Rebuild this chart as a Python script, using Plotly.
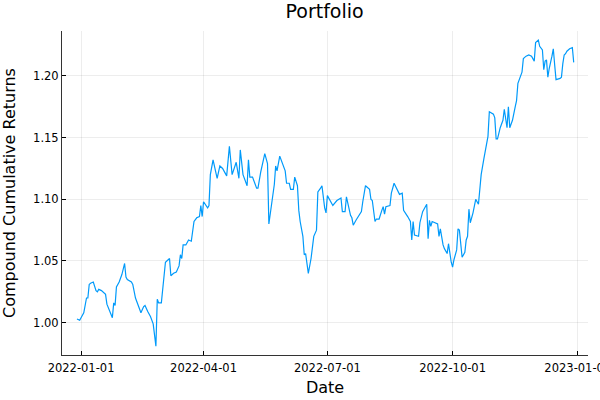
import pandas as pd
import plotly.graph_objects as go

# days counted from 2022-01-01
day = [-3, -1, 0, 2, 4, 5, 6, 7, 9, 11, 12, 13, 15, 17, 18, 19, 21, 23, 24, 25,
       26, 28, 30, 32, 33, 34, 37, 38, 40, 43, 44, 46, 47, 49, 51, 53, 55, 56, 57, 59,
       60, 62, 65, 66, 68, 70, 72, 73, 74, 75, 77, 79, 81, 83, 85, 87, 88, 89, 90, 93,
       94, 95, 97, 100, 102, 104, 107, 109, 111, 114, 116, 117, 119, 122, 123, 124, 126, 129, 130, 132,
       135, 137, 138, 140, 142, 143, 144, 146, 148, 150, 151, 153, 154, 156, 157, 159, 160, 161, 163, 164,
       165, 167, 169, 171, 173, 174, 176, 177, 179, 180, 181, 183, 185, 188, 191, 192, 194, 195, 198, 199,
       200, 202, 205, 206, 207, 209, 212, 213, 214, 216, 217, 219, 221, 222, 223, 224, 227, 228, 230, 232,
       234, 236, 237, 240, 242, 243, 244, 245, 248, 249, 251, 254, 255, 256, 257, 258, 262, 263, 264, 266,
       267, 269, 270, 272, 273, 274, 276, 277, 278, 280, 282, 283, 284, 285, 286, 288, 290, 292, 294, 296,
       298, 299, 300, 303, 304, 305, 306, 308, 310, 311, 313, 314, 315, 317, 319, 320, 321, 323, 324, 325,
       327, 329, 331, 333, 334, 336, 337, 339, 340, 341, 342, 343, 344, 346, 347, 348, 349, 352, 353, 354,
       355, 356, 357, 359, 361, 362]
value = [1.003, 1.002, 1.004, 1.008, 1.020, 1.020, 1.031, 1.032, 1.033, 1.026, 1.025, 1.027, 1.026, 1.024, 1.023, 1.015, 1.010, 1.004, 1.016, 1.014,
         1.029, 1.033, 1.039, 1.048, 1.037, 1.035, 1.033, 1.031, 1.020, 1.010, 1.008, 1.013, 1.014, 1.009, 1.005, 0.999, 0.981, 1.019, 1.016, 1.016,
         1.029, 1.049, 1.052, 1.038, 1.040, 1.041, 1.046, 1.055, 1.052, 1.063, 1.063, 1.067, 1.066, 1.082, 1.085, 1.086, 1.095, 1.086, 1.098, 1.093,
         1.095, 1.120, 1.132, 1.117, 1.127, 1.125, 1.119, 1.143, 1.120, 1.130, 1.117, 1.140, 1.120, 1.111, 1.132, 1.118, 1.118, 1.109, 1.109, 1.122,
         1.137, 1.129, 1.080, 1.098, 1.112, 1.127, 1.123, 1.135, 1.129, 1.123, 1.113, 1.113, 1.108, 1.108, 1.118, 1.111, 1.091, 1.082, 1.070, 1.055,
         1.056, 1.040, 1.052, 1.070, 1.075, 1.106, 1.109, 1.111, 1.093, 1.089, 1.103, 1.099, 1.095, 1.099, 1.101, 1.090, 1.090, 1.102, 1.087, 1.085,
         1.079, 1.083, 1.089, 1.090, 1.098, 1.111, 1.108, 1.100, 1.099, 1.082, 1.084, 1.084, 1.091, 1.094, 1.088, 1.094, 1.095, 1.105, 1.113, 1.109,
         1.104, 1.105, 1.091, 1.086, 1.082, 1.067, 1.082, 1.071, 1.070, 1.081, 1.090, 1.096, 1.068, 1.083, 1.078, 1.082, 1.080, 1.070, 1.076, 1.063,
         1.060, 1.056, 1.064, 1.049, 1.045, 1.051, 1.059, 1.076, 1.075, 1.053, 1.057, 1.067, 1.070, 1.092, 1.081, 1.089, 1.100, 1.096, 1.120, 1.133,
         1.147, 1.151, 1.171, 1.169, 1.166, 1.149, 1.149, 1.158, 1.164, 1.173, 1.158, 1.175, 1.158, 1.164, 1.175, 1.180, 1.194, 1.200, 1.203, 1.214,
         1.216, 1.217, 1.216, 1.212, 1.227, 1.229, 1.224, 1.221, 1.205, 1.212, 1.213, 1.199, 1.206, 1.216, 1.222, 1.209, 1.197, 1.198, 1.199, 1.210,
         1.217, 1.218, 1.220, 1.222, 1.223, 1.211]

x_ticks = ["2022-01-01", "2022-04-01", "2022-07-01", "2022-10-01", "2023-01-01"]
y_ticks = [1.00, 1.05, 1.10, 1.15, 1.20]

dates = pd.Timestamp("2022-01-01") + pd.to_timedelta(day, unit="D")

fig = go.Figure()
fig.add_trace(go.Scatter(x=dates, y=value, mode="lines",
                         line=dict(color="#009AFA", width=1.2), showlegend=False))

font = "DejaVu Sans"
fig.update_layout(
    width=600, height=400,
    plot_bgcolor="white", paper_bgcolor="white",
    margin=dict(l=62, r=12, t=31, b=45),
    font=dict(family=font, color="black"),
    title=dict(text="Portfolio", x=0.541, xanchor="center", y=0.972, yanchor="middle",
               font=dict(size=19, family=font)),
)

#X axis
fig.update_xaxes(title_text="Date", title_font=dict(size=16), title_standoff=8,
                 range=["2021-12-18", "2023-01-08 12:00"],
                 tickvals=x_ticks, ticktext=x_ticks, tickfont=dict(size=11.5),
                 ticks="inside", ticklen=4, tickcolor="black", ticklabelstandoff=2,
                 ticklabeloverflow="allow",
                 showline=True, linecolor="#333333", linewidth=1, mirror=False,
                 showgrid=True, gridcolor="rgba(0,0,0,0.07)", gridwidth=0.6,
                 zeroline=False, automargin=False)
#Y axis
fig.update_yaxes(title_text="Compound Cumulative Returns", title_font=dict(size=16), title_standoff=14,
                 range=[0.9738, 1.2364],
                 tickvals=y_ticks, tickformat=".2f", tickfont=dict(size=11.5),
                 ticks="inside", ticklen=4, tickcolor="black",
                 showline=True, linecolor="#333333", linewidth=1, mirror=False,
                 showgrid=True, gridcolor="rgba(0,0,0,0.07)", gridwidth=0.6,
                 zeroline=False, automargin=False)

# page body has an 8px margin by default; drop it so the figure sits at 0,0
fig.write_html("out.html", config={"displayModeBar": False},
               post_script="document.body.style.margin='0';")
